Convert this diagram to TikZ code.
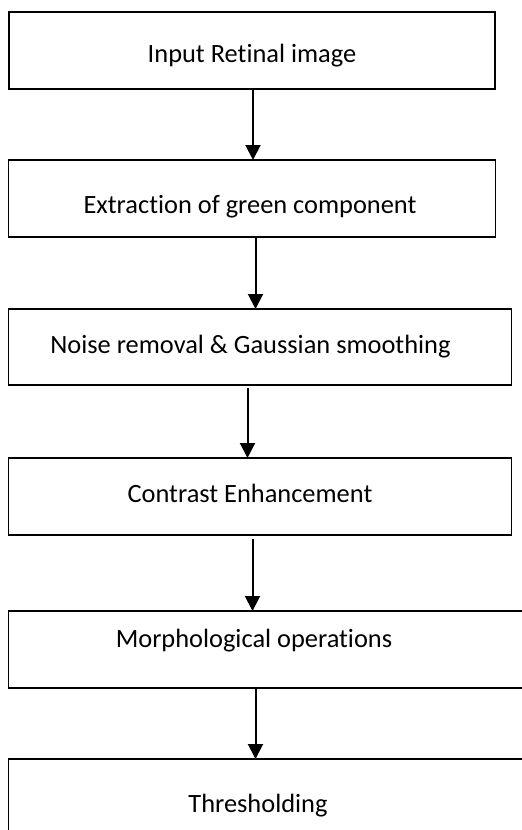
\documentclass[tikz,border=0pt]{standalone}
\usepackage{fontspec}
\setmainfont{Carlito}[Ligatures=NoCommon]
\usetikzlibrary{arrows.meta,positioning,calc}

\begin{document}
\begin{tikzpicture}[
  x=0.5pt,y=-0.5pt,
  >={Triangle[length=7.5pt,width=7.5pt]},
  box/.style={draw,line width=0.9pt,minimum width=243pt,minimum height=38.5pt,inner sep=0pt,outer sep=0pt},
  txt/.style={anchor=base,inner sep=0pt,font={\fontsize{13.2pt}{16pt}\selectfont}},
  line/.style={->,line width=1pt}
]
\useasboundingbox (0,0) rectangle (522,830);
\clip (0,0) rectangle (522,830);

% ---- boxes (top to bottom) ----
\node[box] (b1) at (252,50.5) {};
\node[box,below=35.5pt of b1,minimum width=243.5pt] (b2) {};
\node[box,below=36pt of b2,xshift=4pt,minimum width=251.5pt,minimum height=38pt] (b3) {};
\node[box,below=36.5pt of b3,minimum width=251.5pt] (b4) {};
\node[box,below=38pt of b4,xshift=8.25pt,minimum width=268pt] (b5) {};
\node[box,below=35.5pt of b5,minimum width=268pt,minimum height=43pt] (b6) {};

% ---- texts ----
\node[txt] (t1) at (252,62) {Input Retinal image};
\node[txt] (t2) at (250,213) {Extraction of green component};
\node[txt] (t3) at (250.5,353) {Noise removal \& Gaussian smoothing};
\node[txt] (t4) at (250,502) {Contrast Enhancement};
\node[txt] (t5) at (254,647) {Morphological operations};
\node[txt] (t6) at (258,812) {Thresholding};

% ---- arrows ----
\coordinate (a1) at ([xshift=0.5pt]b1.south);
\coordinate (a2) at ([xshift=1.75pt]b2.south);
\coordinate (a3) at ([xshift=-6.25pt,yshift=-1.5pt]b3.south);
\coordinate (a4) at ([xshift=-3.75pt,yshift=-2pt]b4.south);
\coordinate (a5) at ([xshift=-10.5pt]b5.south);
\draw[line] (a1) -- (a1 |- b2.north);
\draw[line] (a2) -- (a2 |- b3.north);
\draw[line] (a3) -- (a3 |- b4.north);
\draw[line] (a4) -- (a4 |- b5.north);
\draw[line] (a5) -- (a5 |- b6.north);

\end{tikzpicture}
\end{document}
